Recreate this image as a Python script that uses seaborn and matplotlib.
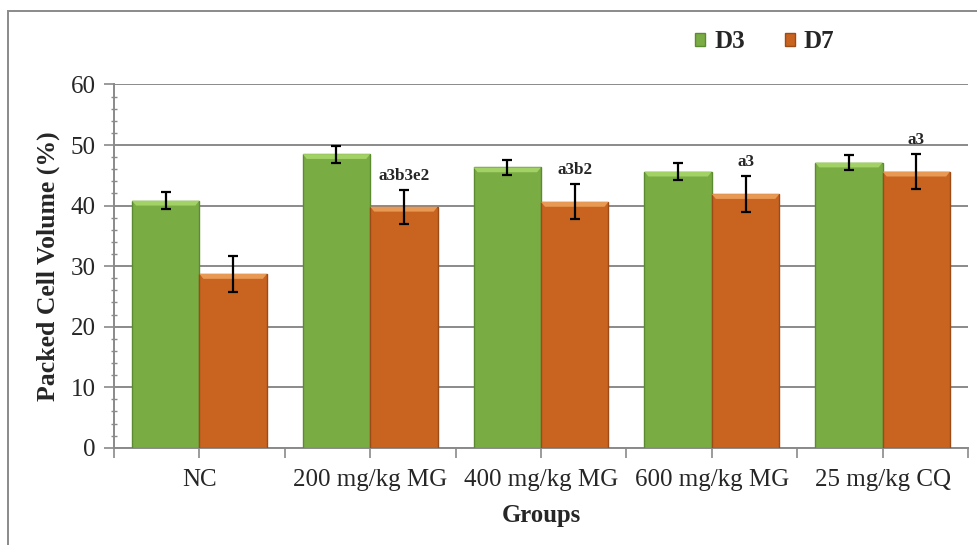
import numpy as np
import pandas as pd
import seaborn as sns
import matplotlib.pyplot as plt
from matplotlib.patches import Rectangle, Patch, Polygon
from matplotlib.ticker import MultipleLocator

# Values
groups = ['NC', '200 mg/kg MG', '400 mg/kg MG', '600 mg/kg MG', '25 mg/kg CQ']
d3_mean = [40.8, 48.5, 46.3, 45.6, 47.1]
d3_err = [1.4, 1.4, 1.3, 1.35, 1.3]
d7_mean = [28.7, 39.8, 40.6, 41.9, 45.6]
d7_err = [2.9, 2.8, 2.9, 2.9, 2.9]
d7_notes = ['', 'a3b3e2', 'a3b2', 'a3', 'a3']

df = pd.DataFrame({
    'group': groups * 2,
    'day': ['D3'] * len(groups) + ['D7'] * len(groups),
    'pcv': d3_mean + d7_mean,
})

sns.set_style('white')
plt.rcParams['font.family'] = ['Liberation Serif', 'DejaVu Serif']

colors = {'D3': '#7AAC44', 'D7': '#C86420'}
edges = {'D3': '#5C8A30', 'D7': '#9C4A16'}
tops = {'D3': '#A2D166', 'D7': '#E89A55'}

fig = plt.figure(figsize=(9.78, 5.45), dpi=100)
ax = fig.add_axes([0.1166, 0.1785, 0.8732, 0.6665])

sns.barplot(data=df, x='group', y='pcv', hue='day', order=groups,
            hue_order=['D3', 'D7'], palette=colors, saturation=1, width=0.79,
            errorbar=None, legend=False, ax=ax, zorder=3)

errs = {'D3': d3_err, 'D7': d7_err}
for day, cont in zip(['D3', 'D7'], ax.containers):
    xs = []
    ys = []
    for bar in cont:
        bar.set_edgecolor(edges[day])
        bar.set_linewidth(1.0)
        x0 = bar.get_x()
        w = bar.get_width()
        h = bar.get_height()
        # lighter bevel on the top of each bar
        bev = Polygon([(x0, h), (x0 + w, h), (x0 + w * 0.94, h - 0.8), (x0 + w * 0.06, h - 0.8)],
                      closed=True, facecolor=tops[day], edgecolor='none', zorder=4)
        ax.add_patch(bev)
        xs.append(x0 + w / 2)
        ys.append(h)
    ax.errorbar(xs, ys, yerr=errs[day], fmt='none', ecolor='black',
                elinewidth=1.6, capsize=3.8, capthick=1.6, zorder=5)
    if day == 'D7':
        for x, y, e, note in zip(xs, ys, d7_err, d7_notes):
            if note:
                ax.text(x, y + e + 1.0, note, ha='center', va='bottom',
                        fontsize=12.3, fontweight='bold')

ax.set_ylim(0, 60)
ax.set_xlim(-0.5, len(groups) - 0.5)
ax.yaxis.set_major_locator(MultipleLocator(10))
ax.yaxis.set_minor_locator(MultipleLocator(2))

# ticks at category centres and boundaries, labels only at centres
tick_pos = np.arange(-0.5, len(groups), 0.5)
tick_lab = ['' if i % 2 == 0 else groups[i // 2] for i in range(len(tick_pos))]
ax.set_xticks(tick_pos)
ax.set_xticklabels(tick_lab)

ax.grid(axis='y', which='major', color='#8a8a8a', linewidth=1.4, zorder=0)
ax.set_axisbelow(True)

for side in ['top', 'right']:
    ax.spines[side].set_visible(False)
for side in ['left', 'bottom']:
    ax.spines[side].set_color('#8a8a8a')
    ax.spines[side].set_linewidth(1.4)

ax.tick_params(axis='y', which='major', direction='out', length=7, width=1.2,
               color='#8a8a8a', labelsize=18, pad=6, left=True)
ax.tick_params(axis='y', which='minor', direction='inout', length=5, width=1.0,
               color='#8a8a8a', left=True)
ax.tick_params(axis='x', which='major', direction='out', length=7, width=1.2,
               color='#8a8a8a', labelsize=18, pad=8, bottom=True)

ax.set_xlabel('Groups', fontsize=17.8, fontweight='bold', labelpad=10)
ax.set_ylabel('Packed Cell Volume (%)', fontsize=18.5, fontweight='bold', labelpad=8)

handles = [Patch(facecolor=colors[d], edgecolor=edges[d]) for d in ['D3', 'D7']]
fig.legend(handles, ['D3', 'D7'], ncol=2, frameon=False, loc='center',
           bbox_to_anchor=(0.782, 0.923), prop={'weight': 'bold', 'size': 18},
           handlelength=0.4, handleheight=0.4, handletextpad=0.35,
           columnspacing=1.6)

# outer chart-area frame
fig.patches.append(Rectangle((0.008, -0.05), 1.05, 1.03, transform=fig.transFigure,
                             fill=False, edgecolor='#8a8a8a', linewidth=1.4))

fig.savefig('out.png', dpi=100)
